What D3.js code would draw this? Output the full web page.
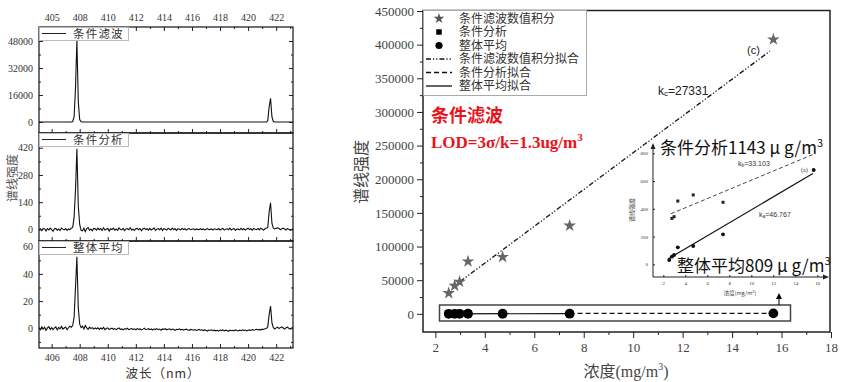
<!DOCTYPE html>
<html>
<head>
<meta charset="utf-8">
<script src="https://cdn.jsdelivr.net/npm/d3@7"></script>
<style>
  body { margin: 0; background: #fff; }
  svg { display: block; }
  text { font-family: "Liberation Serif", "DejaVu Serif", serif; }
  .cjk { font-family: "Noto Sans CJK SC", sans-serif; }
  .sans { font-family: "Liberation Sans", "DejaVu Sans", sans-serif; }
</style>
</head>
<body>
<svg id="chart" width="852" height="382"></svg>
<script>
// ---------- left: spectra ----------
const panelNames = ["条件滤波", "条件分析", "整体平均"];
const panelTicks = [[0, 16000, 32000, 48000], [0, 140, 280, 420], [0, 20, 40, 60]];
const panelMinor = [[8000, 24000, 40000], [70, 210, 350], [-10, 10, 30, 50]];
const panelDomains = [[-6500, 56300], [-60, 496], [-14.5, 64.2]];
const wlTicks = [406, 408, 410, 412, 414, 416, 418, 420, 422];
const wlMinor = [407, 409, 411, 413, 415, 417, 419, 421, 423];
const topTickLabels = ["405", "408", "410", "412", "414", "416", "418", "420", "422"];

// spectrum 1 (flat baseline, given as break points)
const spec1Wl = [405.1, 407.4, 407.5, 407.6, 407.7, 407.8, 407.9, 408.0, 408.1, 408.2,
                 421.3, 421.4, 421.5, 421.6, 421.7, 421.8, 421.9, 423.2];
const spec1Int = [0, 0, 300, 3000, 20000, 48500, 12000, 1500, 200, 0,
                  0, 800, 9000, 14000, 3000, 300, 0, 0];

// spectra 2 and 3 on a 0.1 nm grid from 405.1 nm
const wlStart = 405.1, wlStep = 0.1;
const spec2Int = [
  -4, 3, -6, 5, 2, -8, 4, -3, 6, -2, -10, 3, 5, -4, 2, -6, 7, 1, -3, 4, -5, 2, -2, 6,
  10, 60, 200, 415, 120, 25, -5,
  -8, 6, -12, 4, 9, -5, 2, -7, 5, 3, -4, 6,
  -2, 4, -6, 8, -3, 1, 5, -9, 3, -1, 6, -4,
  2, -5, 7, 0, -3, 5, -6, 2, 4, -2, 8, -3,
  1, -6, 3, 5, -2, 4, -7, 2, 6, -1, 3, -4,
  5, -3, 2, 7, -5, 1, 4, -2, 6, -6, 3, 0,
  -4, 5, 2, -3, 6, -1, 3, -5, 4, 1, -2, 5,
  -1, 3, -4, 2, 4, -2, 1, 3, -3, 2, 0, -2,
  3, -1, 2, -3, 1, 4, -2, 0, 2, -4, 3, 1,
  -2, 4, -3, 2, 5, -4, 1, 3, -2, 6, -3, 2,
  4, -5, 2, 1, -3, 5, -2, 3, -4, 2, 6, -1,
  3, -4, 5, 1, -2, 4, -3, 6, 2, -5, 3, 7,
  8, 90, 137, 30, 6,
  2, 5, 8, 4, -2, 3, 6, 2, -3, 4, 1, -4, -2, 3
];
const spec3Int = [
  0.5, -1, 1, -0.5, 0.8, -1.5, 0.3, 1.2, -0.8, 0.5, -1, 0.2, 1, -1.2, 0.6, -0.4, 1.4, -0.6, 0.2, 0.9, -1, 0.4, 1.5, 0.8,
  2, 8, 30, 52.6, 15, 3, 0.5,
  1.5, -0.5, 2, 0.3, -0.8, 0.8, -0.2, 0.5, -0.6, 0.2, -0.4, 0.4,
  -0.8, 0.2, -0.5, 0.6, -1, -0.2, 0.3, -0.9, -0.3, 0.1, -0.7, -0.2,
  -1, -0.4, 0.2, -0.8, -0.5, -1.2, -0.3, -0.7, 0, -1, -0.6, -0.2,
  -0.9, -0.4, -1.1, -0.2, -0.8, -0.5, -1.2, -0.6, 0.1, -0.9, -0.7, -0.3,
  -1, -0.5, -1.3, -0.4, -0.9, -0.2, -1, -0.6, -1.4, -0.5, -0.8, -0.3,
  -1.1, -0.7, -0.4, -1.2, -0.6, -0.9, -1.5, -0.7, -1, -0.4, -1.1, -0.8,
  -1.3, -0.9, -0.6, -1.2, -1.5, -0.8, -1.1, -1.4, -0.9, -1.6, -1.2, -0.8,
  -1.4, -1.1, -1.7, -1.2, -1.5, -2, -1.3, -1.6, -1.1, -1.8, -1.4, -1.9,
  -1.5, -2.1, -1.3, -1.7, -1.2, -1.9, -1.4, -1.6, -2.2, -1.3, -1.8, -1.5,
  -1.9, -1.2, -1.6, -2, -1.4, -1.8, -1.1, -1.7, -1.3, -1.9, -1.5, -1.2,
  -1.6, -1, -1.4, -1.1, -0.7, -1.2, -0.8, -1.3, -0.6, -0.9, -0.4, -0.2,
  1, 10, 16.4, 4, 0.5,
  -0.5, 0.3, 0.8, -0.2, 0.5, 1, 0.2, -0.6, 0.4, 0.8, 0, -0.5, 0.3, 0.6
];

// ---------- right: calibration ----------
const conc = [2.54, 2.78, 2.98, 3.32, 4.72, 7.43, 15.67];
const filtInt = [30800, 41700, 47600, 77800, 84400, 131000, 407700];   // 条件滤波数值积分
const condInt = [null, 331, 343, 456, 500, 447, null];                 // 条件分析
const avgInt = [31, 55, 67, 122, 132, 216, 680];                       // 整体平均
const mainYTicks = [0, 50000, 100000, 150000, 200000, 250000, 300000, 350000, 400000, 450000];
const mainXTicks = [2, 4, 6, 8, 10, 12, 14, 16, 18];
const insetYTicks = [0, 200, 400, 600, 800];
const insetXTicks = [2, 4, 6, 8, 10, 12, 14, 16];
// fits: slope, intercept, x range
const fitNames = ["filt", "cond", "avg"];
const fitSlopes = [27331, 33.103, 46.767];
const fitIntercepts = [-34000, 275, -75];
const fitRanges = [[3.0, 15.53], [2.7, 15.67], [2.45, 15.6]];
const legendLabels = ["条件滤波数值积分", "条件分析", "整体平均", "条件滤波数值积分拟合", "条件分析拟合", "整体平均拟合"];

const svg = d3.select("#chart");

// ===== left spectra panels =====
const xw = d3.scaleLinear().domain([405.1, 423.2]).range([39, 293]);
const panelTop = [27, 133, 241], panelBottom = [133, 241, 348];
const gridWl = spec2Int.map((_, i) => wlStart + i * wlStep);
const specWl = [spec1Wl, gridWl, gridWl];
const specInt = [spec1Int, spec2Int, spec3Int];

function styleAxis(g, size) {
  g.select(".domain").remove();
  g.selectAll("line").attr("stroke", "#222");
  g.selectAll("text").attr("font-family", "Liberation Serif, serif").attr("font-size", size).attr("fill", "#333");
}

panelNames.forEach((name, p) => {
  const y = d3.scaleLinear().domain(panelDomains[p]).range([panelBottom[p], panelTop[p]]);
  const g = svg.append("g");

  g.append("path")
    .datum(d3.zip(specWl[p], specInt[p]))
    .attr("fill", "none")
    .attr("stroke", "#111")
    .attr("stroke-width", 1.1)
    .attr("d", d3.line().x(d => xw(d[0])).y(d => y(d[1])));

  // bottom ticks (inward)
  const bx = g.append("g").attr("transform", `translate(0,${panelBottom[p]})`)
    .call(d3.axisBottom(xw).tickValues(wlTicks).tickSize(-4).tickPadding(6)
      .tickFormat(p === 2 ? d3.format("d") : ""));
  styleAxis(bx, 10);
  const bm = g.append("g").attr("transform", `translate(0,${panelBottom[p]})`)
    .call(d3.axisBottom(xw).tickValues(wlMinor).tickSize(-2).tickFormat(""));
  styleAxis(bm, 10);

  if (p === 0) {
    const tx = g.append("g").attr("transform", `translate(0,${panelTop[p]})`)
      .call(d3.axisTop(xw).tickValues(wlTicks).tickSize(-4).tickPadding(6)
        .tickFormat((d, i) => topTickLabels[i]));
    styleAxis(tx, 10);
    const tm = g.append("g").attr("transform", `translate(0,${panelTop[p]})`)
      .call(d3.axisTop(xw).tickValues(wlMinor).tickSize(-2).tickFormat(""));
    styleAxis(tm, 10);
  }

  const ly = g.append("g").attr("transform", "translate(39,0)")
    .call(d3.axisLeft(y).tickValues(panelTicks[p]).tickSize(-4).tickPadding(6).tickFormat(d3.format("d")));
  styleAxis(ly, 10);
  const lm = g.append("g").attr("transform", "translate(39,0)")
    .call(d3.axisLeft(y).tickValues(panelMinor[p]).tickSize(-2).tickFormat(""));
  styleAxis(lm, 10);
  const ry = g.append("g").attr("transform", "translate(293,0)")
    .call(d3.axisRight(y).tickValues(panelTicks[p]).tickSize(-4).tickFormat(""));
  styleAxis(ry, 10);
  const rm = g.append("g").attr("transform", "translate(293,0)")
    .call(d3.axisRight(y).tickValues(panelMinor[p]).tickSize(-2).tickFormat(""));
  styleAxis(rm, 10);

  g.append("rect")
    .attr("x", 39).attr("y", panelTop[p])
    .attr("width", 254).attr("height", panelBottom[p] - panelTop[p])
    .attr("fill", "none").attr("stroke", "#111").attr("stroke-width", 1.2);

  // legend
  const lg = g.append("g").attr("transform", `translate(39,${panelTop[p]})`);
  lg.append("rect").attr("x", 0.5).attr("y", 0.5).attr("width", 89).attr("height", 13)
    .attr("fill", "#fff").attr("stroke", "#bbb");
  lg.append("line").attr("x1", 3).attr("x2", 27).attr("y1", 6.5).attr("y2", 6.5)
    .attr("stroke", "#222").attr("stroke-width", 1);
  lg.append("text").attr("class", "cjk").attr("x", 34).attr("y", 11)
    .attr("font-size", 11.5).attr("letter-spacing", 1.2).attr("fill", "#333").text(name);
});

svg.append("text").attr("class", "cjk")
  .attr("transform", "translate(17,178) rotate(-90)")
  .attr("text-anchor", "middle").attr("font-size", 12).attr("fill", "#555")
  .text("谱线强度");
svg.append("text").attr("class", "cjk")
  .attr("x", 163).attr("y", 378).attr("text-anchor", "middle")
  .attr("font-size", 12.5).attr("fill", "#333").attr("letter-spacing", 1)
  .text("波长（nm）");

// ===== right calibration chart =====
const x = d3.scaleLinear().domain([1.5, 18]).range([423, 831]);
const y = d3.scaleLinear().domain([-27000, 450000]).range([332, 11]);

const yAx = svg.append("g").attr("transform", "translate(423,0)")
  .call(d3.axisLeft(y).tickValues(mainYTicks).tickSize(6).tickPadding(3).tickFormat(d3.format("d")));
styleAxis(yAx, 13);
yAx.selectAll("text").attr("fill", "#444");
const yMin = svg.append("g").attr("transform", "translate(423,0)")
  .call(d3.axisLeft(y).tickValues(mainYTicks.slice(0, -1).map(v => v + 25000)).tickSize(3).tickFormat(""));
styleAxis(yMin, 13);
const xAx = svg.append("g").attr("transform", "translate(0,332)")
  .call(d3.axisBottom(x).tickValues(mainXTicks).tickSize(6).tickPadding(5));
styleAxis(xAx, 13);
xAx.selectAll("text").attr("fill", "#444");
const xMin = svg.append("g").attr("transform", "translate(0,332)")
  .call(d3.axisBottom(x).tickValues(mainXTicks.slice(0, -1).map(v => v + 1)).tickSize(3).tickFormat(""));
styleAxis(xMin, 13);

svg.append("rect").attr("x", 423).attr("y", 10.5).attr("width", 407).attr("height", 321.5)
  .attr("fill", "none").attr("stroke", "#222").attr("stroke-width", 1.5);

svg.append("text").attr("class", "cjk")
  .attr("transform", "translate(367,172) rotate(-90)")
  .attr("text-anchor", "middle").attr("font-size", 16).attr("fill", "#444")
  .text("谱线强度");
const xl = svg.append("text").attr("x", 626).attr("y", 377).attr("text-anchor", "middle")
  .attr("font-size", 16).attr("fill", "#444");
xl.append("tspan").attr("class", "cjk").text("浓度");
xl.append("tspan").text("(mg/m");
xl.append("tspan").attr("font-size", 10).attr("dy", -7).text("3");
xl.append("tspan").attr("dy", 7).text(")");

// fit lines
const dashes = ["5,2,1.2,2,1.2,2", "5,3", null];
function fitLine(i, sx, sy, range) {
  const r = range || fitRanges[i];
  return r.map(c => [sx(c), sy(fitSlopes[i] * c + fitIntercepts[i])]);
}
svg.append("path").datum(fitLine(0, x, y))
  .attr("d", d3.line()).attr("fill", "none").attr("stroke", "#111")
  .attr("stroke-width", 1.3).attr("stroke-dasharray", dashes[0]);

// stars
const star = d3.symbol().type(d3.symbolStar).size(50);
svg.selectAll(".star").data(conc.map((c, i) => [c, filtInt[i]])).join("path")
  .attr("class", "star").attr("d", star)
  .attr("transform", d => `translate(${x(d[0])},${y(d[1])})`)
  .attr("fill", "#666");

// boxed near-zero series
svg.append("rect").attr("x", 439.5).attr("y", 305).attr("width", 351).attr("height", 16)
  .attr("fill", "none").attr("stroke", "#444").attr("stroke-width", 1.5);
svg.append("path").datum(fitLine(2, x, y, [conc[0], conc[5]]))
  .attr("d", d3.line()).attr("fill", "none").attr("stroke", "#111").attr("stroke-width", 1.2);
svg.append("path").datum(fitLine(1, x, y, [conc[5], conc[6]]))
  .attr("d", d3.line()).attr("fill", "none").attr("stroke", "#111")
  .attr("stroke-width", 1.2).attr("stroke-dasharray", dashes[1]);
svg.selectAll(".sq").data(conc.map((c, i) => [c, condInt[i]]).filter(d => d[1] !== null)).join("path")
  .attr("class", "sq").attr("d", d3.symbol().type(d3.symbolSquare).size(50))
  .attr("transform", d => `translate(${x(d[0])},${y(d[1])})`).attr("fill", "#000");
svg.selectAll(".dot").data(conc.map((c, i) => [c, avgInt[i]])).join("path")
  .attr("class", "dot").attr("d", d3.symbol().type(d3.symbolCircle).size(75))
  .attr("transform", d => `translate(${x(d[0])},${y(d[1])})`).attr("fill", "#000");

// small arrow from box to inset
svg.append("line").attr("x1", 779).attr("x2", 779).attr("y1", 305).attr("y2", 298)
  .attr("stroke", "#000").attr("stroke-width", 1);
svg.append("path").attr("d", "M776,299 L779,293 L782,299 Z").attr("fill", "#000");

// labels
svg.append("text").attr("class", "sans").attr("x", 747).attr("y", 54)
  .attr("font-size", 11).attr("fill", "#222").text("(c)");
const kc = svg.append("text").attr("class", "sans").attr("x", 658).attr("y", 95)
  .attr("font-size", 12).attr("fill", "#222");
kc.append("tspan").text("k");
kc.append("tspan").attr("font-size", 8).attr("dy", 1).text("c");
kc.append("tspan").attr("dy", -1).text("=27331");

svg.append("text").attr("class", "cjk").attr("x", 431).attr("y", 122)
  .attr("font-size", 18).attr("font-weight", "bold").attr("fill", "#e8141b").text("条件滤波");
const lod = svg.append("text").attr("x", 431).attr("y", 148)
  .attr("font-size", 17).attr("font-weight", "bold").attr("fill", "#e8141b");
lod.append("tspan").text("LOD=3σ/k=1.3ug/m");
lod.append("tspan").attr("font-size", 11).attr("dy", -7).text("3");

// legend
const lg = svg.append("g");
lg.append("rect").attr("x", 423.5).attr("y", 10.5).attr("width", 163).attr("height", 85)
  .attr("fill", "#fff").attr("stroke", "#aaa");
const rowsY = [18.5, 32, 45.5, 59, 72.5, 86];
lg.append("path").attr("d", d3.symbol().type(d3.symbolStar).size(35))
  .attr("transform", `translate(439,${rowsY[0]})`).attr("fill", "#555");
lg.append("path").attr("d", d3.symbol().type(d3.symbolSquare).size(30))
  .attr("transform", `translate(439,${rowsY[1]})`).attr("fill", "#000");
lg.append("path").attr("d", d3.symbol().type(d3.symbolCircle).size(40))
  .attr("transform", `translate(439,${rowsY[2]})`).attr("fill", "#000");
[0, 1, 2].forEach(i => {
  lg.append("line").attr("x1", 426).attr("x2", 452).attr("y1", rowsY[3 + i]).attr("y2", rowsY[3 + i])
    .attr("stroke", "#111").attr("stroke-width", 1.3).attr("stroke-dasharray", dashes[i]);
});
lg.selectAll(".lt").data(legendLabels).join("text")
  .attr("class", "cjk").attr("x", 459).attr("y", (d, i) => rowsY[i]).attr("dy", "0.36em")
  .attr("font-size", 12).attr("fill", "#333").text(d => d);

// ===== inset =====
const ix = d3.scaleLinear().domain([2, 16]).range([663.3, 817.3]);
const iy = d3.scaleLinear().domain([0, 800]).range([264.3, 153.3]);
const inset = svg.append("g");
const iAxX = 653, iAxY = 277;
inset.append("line").attr("x1", iAxX).attr("x2", iAxX).attr("y1", iAxY).attr("y2", 148)
  .attr("stroke", "#222").attr("stroke-width", 1);
inset.append("path").attr("d", `M${iAxX - 2.5},149 L${iAxX},143 L${iAxX + 2.5},149 Z`).attr("fill", "#222");
inset.append("line").attr("x1", iAxX).attr("x2", 824).attr("y1", iAxY).attr("y2", iAxY)
  .attr("stroke", "#222").attr("stroke-width", 1);
inset.append("path").attr("d", `M823,${iAxY - 2.5} L829,${iAxY} L823,${iAxY + 2.5} Z`).attr("fill", "#222");
const iyA = inset.append("g").attr("transform", `translate(${iAxX},0)`)
  .call(d3.axisLeft(iy).tickValues(insetYTicks).tickSize(-2).tickPadding(5));
styleAxis(iyA, 5);
const ixA = inset.append("g").attr("transform", `translate(0,${iAxY})`)
  .call(d3.axisBottom(ix).tickValues(insetXTicks).tickSize(-2).tickPadding(4));
styleAxis(ixA, 5);
inset.append("text").attr("class", "cjk")
  .attr("transform", "translate(634,210) rotate(-90)").attr("text-anchor", "middle")
  .attr("font-size", 6).attr("fill", "#444").text("谱线强度");
inset.append("text").attr("class", "cjk").attr("x", 740).attr("y", 295).attr("text-anchor", "middle")
  .attr("font-size", 5.5).attr("fill", "#444").text("浓度(mg/m³)");

inset.append("path").datum(fitLine(1, ix, iy))
  .attr("d", d3.line()).attr("fill", "none").attr("stroke", "#333")
  .attr("stroke-width", 0.9).attr("stroke-dasharray", "4,2.5");
inset.append("path").datum(fitLine(2, ix, iy))
  .attr("d", d3.line()).attr("fill", "none").attr("stroke", "#111").attr("stroke-width", 1.2);
inset.selectAll(".isq").data(conc.map((c, i) => [c, condInt[i]]).filter(d => d[1] !== null)).join("path")
  .attr("class", "isq").attr("d", d3.symbol().type(d3.symbolSquare).size(9))
  .attr("transform", d => `translate(${ix(d[0])},${iy(d[1])})`).attr("fill", "#222");
inset.selectAll(".idot").data(conc.map((c, i) => [c, avgInt[i]])).join("path")
  .attr("class", "idot").attr("d", d3.symbol().type(d3.symbolCircle).size(12))
  .attr("transform", d => `translate(${ix(d[0])},${iy(d[1])})`).attr("fill", "#111");

const kb = inset.append("text").attr("class", "sans").attr("x", 738).attr("y", 166)
  .attr("font-size", 7).attr("fill", "#333");
kb.append("tspan").text("k");
kb.append("tspan").attr("font-size", 5).attr("dy", 1).text("b");
kb.append("tspan").attr("dy", -1).text("=33.103");
const ka = inset.append("text").attr("class", "sans").attr("x", 759).attr("y", 217)
  .attr("font-size", 7).attr("fill", "#333");
ka.append("tspan").text("k");
ka.append("tspan").attr("font-size", 5).attr("dy", 1).text("a");
ka.append("tspan").attr("dy", -1).text("=46.767");
inset.append("text").attr("x", 801).attr("y", 172).attr("font-size", 6).attr("fill", "#333").text("(a)");

const t1 = inset.append("text").attr("class", "cjk").attr("x", 660).attr("y", 154)
  .attr("font-size", 17).attr("fill", "#111");
t1.append("tspan").text("条件分析1143 μ g/m");
t1.append("tspan").attr("font-size", 11).attr("dy", -7).text("3");
const t2 = inset.append("text").attr("class", "cjk").attr("x", 677).attr("y", 272)
  .attr("font-size", 17).attr("fill", "#111");
t2.append("tspan").text("整体平均809 μ g/m");
t2.append("tspan").attr("font-size", 11).attr("dy", -7).text("3");
</script>
</body>
</html>
